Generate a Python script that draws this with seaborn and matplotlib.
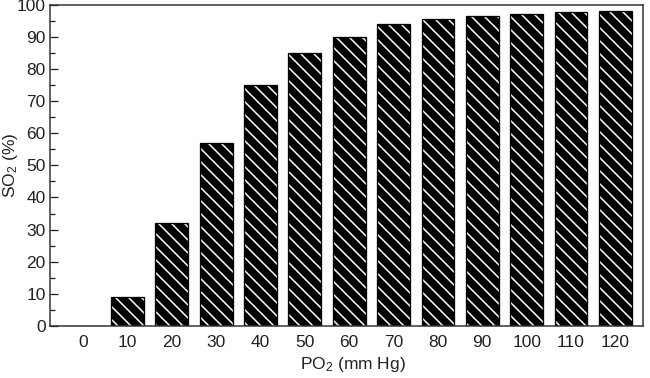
import numpy as np
import pandas as pd
import matplotlib
matplotlib.use('Agg')
import matplotlib.pyplot as plt
import seaborn as sns

# data
po2 = [0, 10, 20, 30, 40, 50, 60, 70, 80, 90, 100, 110, 120]
so2 = [0, 9, 32, 57, 75, 85, 90, 94, 95.6, 96.6, 97.2, 97.8, 98.1]
yticks = [0, 10, 20, 30, 40, 50, 60, 70, 80, 90, 100]

df = pd.DataFrame({'PO2': po2, 'SO2': so2})

sns.set_style('white')
plt.rcParams['font.family'] = ['Liberation Sans', 'DejaVu Sans']
plt.rcParams['mathtext.default'] = 'regular'
plt.rcParams['hatch.linewidth'] = 0.7

dpi = 156
fig = plt.figure(figsize=(650 / dpi, 378 / dpi), dpi=dpi)
ax = fig.add_axes([0.077, 0.138, 0.912, 0.849])

# hatched fill (white hatch on black)
sns.barplot(data=df, x='PO2', y='SO2', color='black', edgecolor='white',
            hatch='\\\\\\\\', linewidth=0, width=0.74, saturation=1, ax=ax)
# black outline on top
sns.barplot(data=df, x='PO2', y='SO2', fill=False, color='black',
            edgecolor='black', linewidth=0.6, width=0.74, ax=ax)

fs = 8
ax.set_xlim(-0.745, 12.62)
ax.set_ylim(0, 100)
ax.set_yticks(yticks)
ax.set_yticks(np.arange(0, 101, 5), minor=True)
ax.tick_params(axis='y', which='major', direction='in', length=3.7, width=0.6,
               labelsize=fs, pad=2.0, color='#222222', left=True)
ax.tick_params(axis='y', which='minor', direction='in', length=2.3, width=0.6,
               color='#222222', left=True)
ax.tick_params(axis='x', length=0, labelsize=fs, pad=4.3)
for lab in ax.get_xticklabels() + ax.get_yticklabels():
    lab.set_color('#222222')

for sp in ax.spines.values():
    sp.set_visible(True)
    sp.set_linewidth(0.7)
    sp.set_color('#333333')

ax.set_xlabel('PO$_2$ (mm Hg)', fontsize=fs, color='#222222')
ax.set_ylabel('SO$_2$ (%)', fontsize=fs, color='#222222')
ax.xaxis.set_label_coords(0.511, -0.09)
ax.yaxis.set_label_coords(-0.05, 0.5)

fig.savefig('out.png', dpi=dpi)
